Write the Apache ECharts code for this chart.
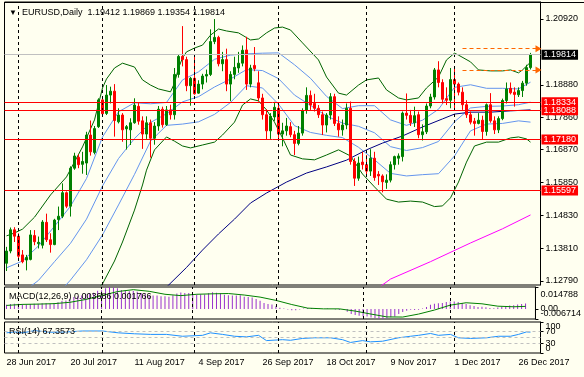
<!DOCTYPE html>
<html>
<head>
<meta charset="utf-8">
<script src="https://cdn.jsdelivr.net/npm/echarts@6/dist/echarts.min.js"></script>
<style>
html,body{margin:0;padding:0;background:#FFFFF0;}
#chart{width:584px;height:377px;}
</style>
</head>
<body>
<div id="chart"></div>
<script>
// EURUSD daily, MT4 look: candles + bands + MA, MACD and RSI below

var FONT = 'Liberation Sans, Arial, sans-serif';

var days = ['28 Jun 2017','29 Jun 2017','30 Jun 2017','3 Jul 2017','4 Jul 2017','5 Jul 2017','6 Jul 2017','7 Jul 2017','10 Jul 2017','11 Jul 2017','12 Jul 2017','13 Jul 2017','14 Jul 2017','17 Jul 2017','18 Jul 2017','19 Jul 2017','20 Jul 2017','21 Jul 2017','24 Jul 2017','25 Jul 2017','26 Jul 2017','27 Jul 2017','28 Jul 2017','31 Jul 2017',
'1 Aug 2017','2 Aug 2017','3 Aug 2017','4 Aug 2017','7 Aug 2017','8 Aug 2017','9 Aug 2017','10 Aug 2017','11 Aug 2017','14 Aug 2017','15 Aug 2017','16 Aug 2017','17 Aug 2017','18 Aug 2017','21 Aug 2017','22 Aug 2017','23 Aug 2017','24 Aug 2017','25 Aug 2017','28 Aug 2017','29 Aug 2017','30 Aug 2017','31 Aug 2017',
'1 Sep 2017','4 Sep 2017','5 Sep 2017','6 Sep 2017','7 Sep 2017','8 Sep 2017','11 Sep 2017','12 Sep 2017','13 Sep 2017','14 Sep 2017','15 Sep 2017','18 Sep 2017','19 Sep 2017','20 Sep 2017','21 Sep 2017','22 Sep 2017','25 Sep 2017','26 Sep 2017','27 Sep 2017','28 Sep 2017','29 Sep 2017',
'2 Oct 2017','3 Oct 2017','4 Oct 2017','5 Oct 2017','6 Oct 2017','9 Oct 2017','10 Oct 2017','11 Oct 2017','12 Oct 2017','13 Oct 2017','16 Oct 2017','17 Oct 2017','18 Oct 2017','19 Oct 2017','20 Oct 2017','23 Oct 2017','24 Oct 2017','25 Oct 2017','26 Oct 2017','27 Oct 2017','30 Oct 2017','31 Oct 2017',
'1 Nov 2017','2 Nov 2017','3 Nov 2017','6 Nov 2017','7 Nov 2017','8 Nov 2017','9 Nov 2017','10 Nov 2017','13 Nov 2017','14 Nov 2017','15 Nov 2017','16 Nov 2017','17 Nov 2017','20 Nov 2017','21 Nov 2017','22 Nov 2017','23 Nov 2017','24 Nov 2017','27 Nov 2017','28 Nov 2017','29 Nov 2017','30 Nov 2017',
'1 Dec 2017','4 Dec 2017','5 Dec 2017','6 Dec 2017','7 Dec 2017','8 Dec 2017','11 Dec 2017','12 Dec 2017','13 Dec 2017','14 Dec 2017','15 Dec 2017','18 Dec 2017','19 Dec 2017','20 Dec 2017','21 Dec 2017','22 Dec 2017','26 Dec 2017','27 Dec 2017','28 Dec 2017','29 Dec 2017'];

// open, high, low, close
var ohlc = [
[1.1334,1.1385,1.1310,1.1372],[1.1372,1.1445,1.1365,1.1438],[1.1438,1.1446,1.1400,1.1418],[1.1418,1.1427,1.1344,1.1356],[1.1360,1.1375,1.1334,1.1339],[1.1344,1.1360,1.1312,1.1352],
[1.1346,1.1437,1.1343,1.1422],[1.1420,1.1437,1.1390,1.1401],[1.1395,1.1417,1.1380,1.1399],[1.1390,1.1468,1.1380,1.1462],[1.1461,1.1488,1.1400,1.1407],[1.1407,1.1427,1.1367,1.1392],
[1.1392,1.1472,1.1390,1.1468],[1.1470,1.1510,1.1437,1.1480],[1.1480,1.1582,1.1474,1.1553],[1.1553,1.1557,1.1505,1.1511],[1.1511,1.1635,1.1479,1.1629],[1.1629,1.1677,1.1624,1.1667],
[1.1663,1.1672,1.1629,1.1640],[1.1641,1.1680,1.1612,1.1650],[1.1645,1.1742,1.1608,1.1732],[1.1732,1.1777,1.1668,1.1680],[1.1678,1.1760,1.1672,1.1752],[1.1758,1.1846,1.1754,1.1841],
[1.1841,1.1846,1.1789,1.1798],[1.1799,1.1887,1.1794,1.1856],[1.1856,1.1882,1.1830,1.1868],[1.1868,1.1890,1.1727,1.1777],[1.1773,1.1815,1.1768,1.1794],[1.1794,1.1800,1.1711,1.1748],
[1.1751,1.1763,1.1687,1.1758],[1.1748,1.1784,1.1701,1.1770],[1.1770,1.1846,1.1767,1.1825],[1.1821,1.1831,1.1764,1.1775],[1.1776,1.1790,1.1689,1.1735],[1.1735,1.1790,1.1720,1.1770],
[1.1770,1.1780,1.1662,1.1722],[1.1722,1.1772,1.1702,1.1760],[1.1760,1.1822,1.1745,1.1812],[1.1812,1.1820,1.1755,1.1764],[1.1764,1.1822,1.1760,1.1810],[1.1810,1.1826,1.1780,1.1795],
[1.1795,1.1940,1.1780,1.1920],[1.1920,1.1983,1.1910,1.1976],[1.1976,1.2070,1.1945,1.1966],[1.1966,1.1975,1.1868,1.1885],[1.1885,1.1912,1.1823,1.1908],[1.1908,1.1980,1.1857,1.1860],
[1.1862,1.1902,1.1860,1.1890],[1.1890,1.1922,1.1874,1.1915],[1.1915,1.1935,1.1895,1.1920],[1.1920,1.2060,1.1915,1.2022],[1.2022,1.2092,1.2014,1.2035],[1.2035,1.2040,1.1945,1.1953],
[1.1953,1.1990,1.1930,1.1966],[1.1966,1.2000,1.1868,1.1890],[1.1890,1.1930,1.1837,1.1920],[1.1920,1.1975,1.1905,1.1942],[1.1940,1.1990,1.1925,1.1955],[1.1955,1.2010,1.1945,1.1995],
[1.1996,1.2037,1.1872,1.1890],[1.1890,1.1950,1.1880,1.1940],[1.1948,1.2005,1.1930,1.1938],[1.1894,1.1930,1.1837,1.1847],[1.1847,1.1860,1.1780,1.1795],[1.1795,1.1812,1.1718,1.1745],
[1.1745,1.1800,1.1720,1.1790],[1.1788,1.1835,1.1776,1.1818],[1.1815,1.1830,1.1715,1.1735],[1.1735,1.1770,1.1697,1.1745],[1.1745,1.1785,1.1730,1.1760],[1.1758,1.1772,1.1725,1.1733],
[1.1733,1.1745,1.1670,1.1706],[1.1706,1.1760,1.1700,1.1738],[1.1738,1.1815,1.1730,1.1808],[1.1808,1.1880,1.1798,1.1855],[1.1855,1.1870,1.1810,1.1825],[1.1830,1.1860,1.1805,1.1815],
[1.1815,1.1825,1.1785,1.1795],[1.1795,1.1805,1.1732,1.1763],[1.1763,1.1800,1.1740,1.1794],[1.1794,1.1862,1.1780,1.1851],[1.1851,1.1860,1.1760,1.1768],[1.1768,1.1790,1.1727,1.1748],
[1.1748,1.1780,1.1730,1.1763],[1.1763,1.1830,1.1750,1.1815],[1.1815,1.1836,1.1640,1.1650],[1.1650,1.1660,1.1574,1.1598],[1.1598,1.1665,1.1590,1.1645],[1.1648,1.1680,1.1625,1.1640],
[1.1640,1.1670,1.1605,1.1620],[1.1620,1.1688,1.1605,1.1660],[1.1660,1.1680,1.1590,1.1600],[1.1610,1.1620,1.1577,1.1605],[1.1605,1.1610,1.1554,1.1587],[1.1585,1.1610,1.1565,1.1592],
[1.1592,1.1650,1.1585,1.1640],[1.1640,1.1668,1.1625,1.1665],[1.1660,1.1675,1.1640,1.1667],[1.1665,1.1805,1.1650,1.1800],[1.1800,1.1861,1.1780,1.1793],[1.1793,1.1810,1.1760,1.1770],
[1.1770,1.1820,1.1757,1.1792],[1.1795,1.1805,1.1722,1.1733],[1.1733,1.1765,1.1715,1.1742],[1.1742,1.1830,1.1735,1.1822],[1.1822,1.1860,1.1815,1.1850],[1.1850,1.1940,1.1842,1.1934],
[1.1934,1.1961,1.1880,1.1895],[1.1895,1.1905,1.1830,1.1843],[1.1845,1.1880,1.1825,1.1840],[1.1840,1.1940,1.1815,1.1904],[1.1904,1.1940,1.1812,1.1890],[1.1890,1.1895,1.1855,1.1865],
[1.1865,1.1880,1.1810,1.1826],[1.1826,1.1840,1.1785,1.1795],[1.1795,1.1805,1.1765,1.1772],[1.1775,1.1785,1.1730,1.1768],[1.1768,1.1800,1.1765,1.1778],[1.1778,1.1792,1.1717,1.1743],
[1.1743,1.1830,1.1730,1.1826],[1.1826,1.1862,1.1770,1.1776],[1.1776,1.1790,1.1735,1.1748],[1.1748,1.1790,1.1738,1.1783],[1.1783,1.1845,1.1778,1.1839],[1.1839,1.1895,1.1830,1.1875],
[1.1877,1.1895,1.1858,1.1863],[1.1865,1.1880,1.1820,1.1858],[1.1857,1.1880,1.1850,1.1870],[1.1870,1.1900,1.1850,1.1893],[1.1893,1.1950,1.1885,1.19412],[1.19412,1.19869,1.19354,1.19814]
];

// bollinger bands (outer green, inner blue) and moving averages, [bar index, price]
var bbUpper = [[0,1.1419],[2,1.1428],[4,1.1440],[7,1.1477],[11,1.1546],[15,1.1602],[19,1.1695],[22,1.1779],[24,1.1878],[25,1.1906],[27,1.1940],[29,1.1955],[32,1.1943],[34,1.1903],[36,1.1887],[38,1.1875],[41,1.1866],[42,1.1893],[43,1.1940],[44,1.1971],[45,1.1990],[47,1.2002],[49,1.2011],[51,1.2042],[53,1.2061],[55,1.2055],[58,1.2049],[61,1.2027],[63,1.2030],[65,1.2049],[67,1.2064],[69,1.2067],[71,1.2058],[74,1.2018],[78,1.1965],[80,1.1912],[83,1.1862],[85,1.1856],[88,1.1887],[90,1.1903],[93,1.1909],[95,1.1872],[98,1.1847],[100,1.1841],[103,1.1847],[105,1.1878],[108,1.1912],[110,1.1965],[112,1.1986],[113,1.1980],[116,1.1959],[118,1.1934],[121,1.1931],[124,1.1931],[126,1.1934],[128,1.1925],[129,1.1934],[131,1.1958]];
var bbLower = [[0,1.1021],[8,1.1068],[16,1.1167],[22,1.1245],[24,1.1270],[27,1.1341],[29,1.1400],[32,1.1499],[34,1.1577],[35,1.1623],[37,1.1686],[40,1.1726],[42,1.1713],[44,1.1698],[46,1.1692],[49,1.1701],[52,1.1710],[54,1.1732],[57,1.1772],[59,1.1825],[61,1.1844],[63,1.1838],[65,1.1810],[67,1.1772],[69,1.1723],[71,1.1670],[74,1.1658],[77,1.1655],[80,1.1670],[83,1.1686],[86,1.1667],[89,1.1611],[92,1.1571],[95,1.1533],[98,1.1524],[101,1.1527],[104,1.1524],[107,1.1510],[109,1.1512],[111,1.1537],[113,1.1586],[115,1.1648],[117,1.1698],[120,1.1710],[123,1.1710],[126,1.1723],[128,1.1726],[130,1.1720],[131,1.1710]];
var bbInUp = [[0,1.1320],[4,1.1341],[8,1.1388],[12,1.1449],[16,1.1511],[20,1.1597],[24,1.1726],[28,1.1804],[32,1.1832],[36,1.1829],[40,1.1833],[44,1.1903],[48,1.1928],[52,1.1967],[56,1.1980],[60,1.1984],[64,1.1986],[68,1.1987],[72,1.1950],[76,1.1908],[80,1.1852],[84,1.1814],[88,1.1823],[92,1.1823],[96,1.1779],[100,1.1762],[104,1.1778],[108,1.1812],[112,1.1880],[116,1.1888],[120,1.1877],[124,1.1877],[128,1.1875],[131,1.1896]];
var bbMid = [[0,1.1220],[4,1.1243],[8,1.1281],[12,1.1339],[16,1.1396],[20,1.1471],[24,1.1574],[28,1.1659],[32,1.1721],[36,1.1771],[40,1.1798],[44,1.1835],[48,1.1851],[52,1.1881],[56,1.1906],[60,1.1935],[64,1.1932],[68,1.1907],[72,1.1856],[76,1.1824],[80,1.1791],[84,1.1769],[88,1.1759],[92,1.1739],[96,1.1696],[100,1.1684],[104,1.1693],[108,1.1712],[112,1.1773],[116,1.1816],[120,1.1821],[124,1.1822],[128,1.1826],[131,1.1834]];
var bbInLow = [[0,1.1121],[4,1.1144],[8,1.1175],[12,1.1228],[16,1.1282],[20,1.1345],[24,1.1422],[28,1.1515],[32,1.1610],[36,1.1713],[40,1.1762],[44,1.1766],[48,1.1773],[52,1.1796],[56,1.1833],[60,1.1885],[64,1.1878],[68,1.1828],[72,1.1761],[76,1.1740],[80,1.1731],[84,1.1724],[88,1.1694],[92,1.1655],[96,1.1613],[100,1.1605],[104,1.1609],[108,1.1612],[112,1.1667],[116,1.1745],[120,1.1766],[124,1.1768],[128,1.1776],[131,1.1772]];
var maNavy = [[40,1.1260],[45,1.1321],[49,1.1375],[53,1.1425],[57,1.1471],[61,1.1521],[65,1.1552],[70,1.1586],[75,1.1614],[80,1.1633],[85,1.1654],[90,1.1686],[94,1.1707],[99,1.1729],[104,1.1757],[109,1.1782],[112,1.1797],[116,1.1803],[121,1.1803],[126,1.1807],[131,1.1810]];
var maMagenta = [[93,1.1258],[96,1.1285],[106,1.1339],[116,1.1397],[124,1.1441],[131,1.1484]];

// MACD(12,26,9): main as histogram, signal as line
var macdMain = [
0.0028,0.0033,0.0036,0.0035,0.0033,0.0031, 0.0034,0.0035,0.0035,0.0039,0.0038,0.0036,
0.0041,0.0045,0.0054,0.0057,0.0069,0.0080, 0.0086,0.0091,0.0101,0.0103,0.0110,0.0122,
0.0126,0.0140,0.0148,0.0144,0.0140,0.0128, 0.0123,0.0119,0.0121,0.0116,0.0108,0.0103,
0.0094,0.0090,0.0090,0.0085,0.0085,0.0082, 0.0092,0.0104,0.0111,0.0108,0.0107,0.0100,
0.0098,0.0098,0.0097,0.0106,0.0113,0.0109, 0.0105,0.0096,0.0092,0.0091,0.0090,0.0092,
0.0083,0.0080,0.0078,0.0068,0.0055,0.0040, 0.0033,0.0030,0.0018,0.0009,0.0004,-0.0004,
-0.0008,-0.0009,-0.0004,0.0004,0.0006,0.0007, 0.0006,0.0001,0.0000,0.0004,0.0000,-0.0004,
-0.0006,-0.0004,-0.0018,-0.0033,-0.0040,-0.0045, -0.0050,-0.0051,-0.0057,-0.0060,-0.0065,-0.0067,
-0.0063,-0.0056,-0.0050,-0.0033,-0.0020,-0.0012, -0.0005,-0.0006,-0.0005,0.0004,0.0014,0.0029,
0.0035,0.0038,0.0040,0.0047,0.0051,0.0051, 0.0047,0.0041,0.0033,0.0026,0.0020,0.0013,
0.0015,0.0011,0.0006,0.0005,0.0010,0.0016, 0.0021,0.0024,0.0026,0.0030,0.0033,0.003686];
var macdSignal = [[0,0.0024],[4,0.0031],[8,0.0033],[12,0.0036],[16,0.0045],[20,0.0064],[24,0.0090],[28,0.0117],[32,0.0130],[36,0.0119],[40,0.0099],[44,0.0090],[48,0.0099],[52,0.0102],[56,0.0104],[60,0.0094],[64,0.0080],[68,0.0058],[72,0.0030],[76,0.0006],[80,0.0001],[84,0.0001],[88,-0.0014],[92,-0.0034],[96,-0.0053],[100,-0.0054],[104,-0.0034],[108,-0.0007],[112,0.0026],[116,0.0042],[120,0.0035],[124,0.0019],[128,0.0015],[131,0.001766]];

// RSI(14)
var rsi = [[0,65],[2,68],[4,65],[7,72],[11,67],[15,68],[19,71],[24,71],[28,65],[32,62],[36,60],[40,60],[44,54],[49,57],[51,65],[54,60],[57,54],[60,52],[63,57],[65,40],[69,43],[71,41],[74,47],[77,49],[81,49],[84,43],[86,34],[89,40],[91,36],[94,38],[98,49],[101,54],[103,57],[106,63],[108,57],[111,60],[113,49],[116,47],[120,49],[123,54],[126,54],[128,60],[130,68],[131,67.3573]];

// levels, ticks
var priceTicks = [1.20920,1.18880,1.17860,1.16870,1.15850,1.14830,1.13810,1.12790];
var redLevels = [1.18334,1.18088,1.17180,1.15597];
var bidPrice = 1.19814;
var orangeLevels = [1.2000,1.1934];
var orangeFrom = 114, orangeTo = 133;
var monthStarts = [3,24,47,68,90,112];
var macdRange = [-0.006714,0.014788];
var rsiEnds = [0,100];
var rsiLevels = [30,50,70];

// 2 empty slots right of the last bar (chart shift)
var cats = days.concat(['','']);
var candles = ohlc.map(function(d){ return [d[0], d[3], d[2], d[1]]; });
var last = ohlc[ohlc.length-1];

var vDash = monthStarts.map(function(i){ return {xAxis: i}; });
var dashStyle = {color:'#000', type:[3,3], width:1};

var myChart = echarts.init(document.getElementById('chart'));

var txt = {fontFamily: FONT, fontSize: 9, color: '#000', fontWeight: 'normal'};
// nudges for the first/last panel labels, as MT4 keeps them inside the window
function edgeRich(dn, up){
    return {
        dn: {fontFamily: FONT, fontSize: 9, color: '#000', padding: [dn, 0, 0, 0]},
        up: {fontFamily: FONT, fontSize: 9, color: '#000', padding: [0, 0, up, 0]}
    };
}

function boxLabel(v, bg){
    return {show: true, position: 'end', distance: 1, formatter: v.toFixed(5),
            backgroundColor: bg, color: '#fff', padding: [1, 2, 0, 2], fontSize: 9, fontFamily: FONT};
}

// a plain right-hand value axis for a panel
function panelAxis(grid, min, max, ticks, fmt, rich, line){
    return {type: 'value', gridIndex: grid, position: 'right', min: min, max: max,
            axisLine: {show: line, lineStyle: {color: '#000'}},
            axisTick: {show: true, length: 3, customValues: ticks, lineStyle: {color: '#000'}},
            axisLabel: {customValues: ticks, showMinLabel: true, showMaxLabel: true, hideOverlap: false,
                        margin: 5, fontFamily: FONT, fontSize: 9, color: '#000', rich: rich, formatter: fmt},
            splitLine: {show: false}};
}

// grid left at .5 so 4px bar slots land on whole pixels
var GL = 4.5, GW = 536;

var option = {
    animation: false,
    backgroundColor: '#FFFFF0',
    textStyle: {fontFamily: FONT},
    graphic: [
        {type: 'line', silent: true, shape: {x1: 4, y1: 2.5, x2: 584, y2: 2.5}, style: {stroke: '#000', lineWidth: 1}}
    ],
    title: [
        {text: '{t|\u25BC}  EURUSD,Daily  ' + last.map(function(v){return v.toFixed(5);}).join(' '),
         left: 9, top: 8, padding: 0,
         textStyle: Object.assign({rich: {t: {fontSize: 8, color: '#000'}}}, txt)},
        {text: 'MACD(12,26,9) ' + macdMain[macdMain.length-1].toFixed(6) + ' ' + macdSignal[macdSignal.length-1][1].toFixed(6),
         left: 9, top: 292, padding: 0, textStyle: txt},
        {text: 'RSI(14) ' + rsi[rsi.length-1][1].toFixed(4),
         left: 9, top: 327, padding: 0, textStyle: txt}
    ],
    grid: [
        {left: GL, top: 2, width: GW, height: 283, show: true, borderColor: '#000', borderWidth: 1, backgroundColor: 'transparent'},
        {left: GL, top: 287, width: GW, height: 32, show: true, borderColor: '#000', borderWidth: 1, backgroundColor: 'transparent'},
        {left: GL, top: 322, width: GW, height: 31, show: true, borderColor: '#000', borderWidth: 1, backgroundColor: 'transparent'}
    ],
    xAxis: [0,1,2].map(function(g){
        return {
            type: 'category', gridIndex: g, data: cats, boundaryGap: true,
            axisLine: {show: false}, axisTick: {show: false}, splitLine: {show: false},
            axisLabel: {
                show: g === 2,
                interval: function(i){ return i % 16 === 0 && i < days.length; },
                align: 'left', margin: 5, hideOverlap: false,
                fontFamily: FONT, fontSize: 9, color: '#000'
            }
        };
    }),
    yAxis: [
        {type: 'value', gridIndex: 0, position: 'right', min: 1.12666, max: 1.21448,
         axisLine: {show: true, lineStyle: {color: '#000'}},
         axisTick: {show: true, length: 3, customValues: priceTicks, lineStyle: {color: '#000'}},
         axisLabel: {customValues: priceTicks, margin: 5, hideOverlap: false, fontFamily: FONT, fontSize: 9, color: '#000',
                     formatter: function(v){ return v.toFixed(5); }},
         splitLine: {show: false}},
        // MACD: max/min labels on one axis, the zero label on a twin so both stay drawn
        panelAxis(1, macdRange[0], macdRange[1], macdRange, function(v){
            return v > 0 ? '{dn|' + v.toFixed(6) + '}' : '{up|' + v.toFixed(6) + '}';
        }, edgeRich(15, 11), true),
        // RSI: 0/100 on one axis, 30/50/70 on a twin
        panelAxis(2, 0, 100, rsiEnds, function(v){
            return v === 100 ? '{dn|100}' : '{up|0}';
        }, edgeRich(9, 8), true),
        panelAxis(1, macdRange[0], macdRange[1], [0], function(){ return '0.00'; }, {}, false),
        panelAxis(2, 0, 100, rsiLevels, function(v){ return String(v); }, {}, false)
    ],
    series: [
        // month separators (behind everything)
        {type: 'line', xAxisIndex: 0, yAxisIndex: 0, data: [], silent: true, z: 1,
         markLine: {silent: true, symbol: 'none', label: {show: false}, lineStyle: dashStyle, data: vDash}},
        {type: 'line', name: 'bbUpper', xAxisIndex: 0, yAxisIndex: 0, data: bbUpper, showSymbol: false, silent: true, z: 2,
         lineStyle: {color: '#006400', width: 1}},
        {type: 'line', name: 'bbLower', xAxisIndex: 0, yAxisIndex: 0, data: bbLower, showSymbol: false, silent: true, z: 2,
         lineStyle: {color: '#006400', width: 1}},
        {type: 'line', name: 'bbInUp', xAxisIndex: 0, yAxisIndex: 0, data: bbInUp, showSymbol: false, silent: true, z: 2,
         lineStyle: {color: '#6495ED', width: 1}},
        {type: 'line', name: 'bbMid', xAxisIndex: 0, yAxisIndex: 0, data: bbMid, showSymbol: false, silent: true, z: 2,
         lineStyle: {color: '#6495ED', width: 1}},
        {type: 'line', name: 'bbInLow', xAxisIndex: 0, yAxisIndex: 0, data: bbInLow, showSymbol: false, silent: true, z: 2,
         lineStyle: {color: '#6495ED', width: 1}},
        {type: 'line', name: 'maNavy', xAxisIndex: 0, yAxisIndex: 0, data: maNavy, showSymbol: false, silent: true, z: 2,
         lineStyle: {color: '#000080', width: 1}},
        {type: 'line', name: 'maMagenta', xAxisIndex: 0, yAxisIndex: 0, data: maMagenta, showSymbol: false, silent: true, z: 2,
         lineStyle: {color: '#FF00FF', width: 1}},
        {type: 'candlestick', xAxisIndex: 0, yAxisIndex: 0, data: candles, barWidth: 2, silent: true, z: 3,
         itemStyle: {color: '#008000', color0: '#FF0000', borderColor: '#008000', borderColor0: '#FF0000', borderWidth: 1}},
        // bid line
        {type: 'line', xAxisIndex: 0, yAxisIndex: 0, data: [], silent: true, z: 2,
         markLine: {silent: true, symbol: 'none', precision: 5,
                    lineStyle: {color: '#C0C0C0', type: 'solid', width: 1},
                    data: [{yAxis: bidPrice, label: boxLabel(bidPrice, '#000')}]}},
        // red levels
        {type: 'line', xAxisIndex: 0, yAxisIndex: 0, data: [], silent: true, z: 4,
         markLine: {silent: true, symbol: 'none', precision: 5,
                    lineStyle: {color: '#FF0000', type: 'solid', width: 1},
                    data: redLevels.map(function(v){ return {yAxis: v, label: boxLabel(v, '#FF0000')}; })}},
        // orange dashed arrows
        {type: 'line', xAxisIndex: 0, yAxisIndex: 0, data: [], silent: true, z: 4,
         markLine: {silent: true, precision: 5, symbol: ['none', 'triangle'], symbolSize: [7, 6],
                    label: {show: false},
                    lineStyle: {color: '#FF6600', type: [4, 3], width: 1},
                    data: orangeLevels.map(function(v){
                        return [{coord: [orangeFrom, v]}, {coord: [orangeTo, v]}];
                    })}},
        // MACD
        {type: 'bar', xAxisIndex: 1, yAxisIndex: 1, data: macdMain, barWidth: 1, silent: true, z: 2,
         itemStyle: {color: '#9932CC'},
         markLine: {silent: true, symbol: 'none', label: {show: false}, lineStyle: dashStyle, data: vDash}},
        {type: 'line', xAxisIndex: 1, yAxisIndex: 1, data: macdSignal, showSymbol: false, silent: true, z: 3,
         lineStyle: {color: '#008000', width: 1}},
        // RSI
        {type: 'line', xAxisIndex: 2, yAxisIndex: 2, data: rsi, showSymbol: false, silent: true, z: 3,
         lineStyle: {color: '#1E90FF', width: 1},
         markLine: {silent: true, symbol: 'none', label: {show: false},
                    data: vDash.concat(rsiLevels.map(function(v){
                        return {yAxis: v, lineStyle: {color: '#C0C0C0', type: [3, 3], width: 1}};
                    })),
                    lineStyle: dashStyle}}
    ]
};

myChart.setOption(option);
</script>
</body>
</html>
